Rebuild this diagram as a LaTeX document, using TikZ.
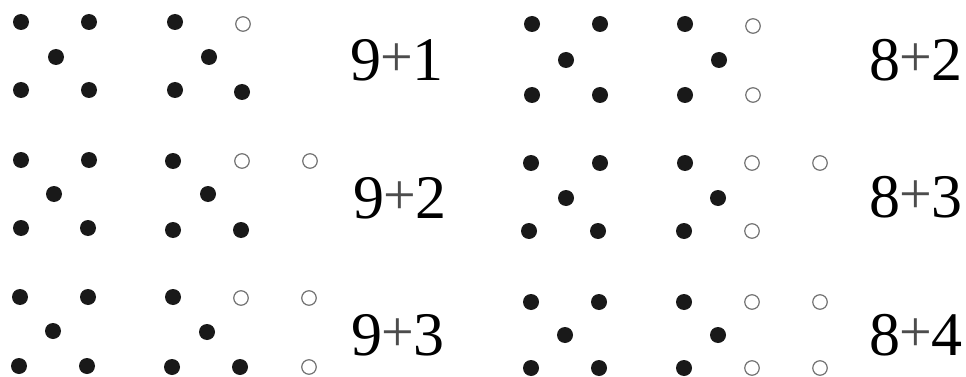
\documentclass[tikz,border=0pt]{standalone}
\usepackage{graphicx}
\usepackage{fontspec}
\newfontfamily\labfont{Liberation Serif}
\tikzset{
  fd/.style={circle,fill=black!90,inner sep=0pt,minimum size=16pt},
  od/.style={circle,draw=black!55,line width=1.2pt,inner sep=0pt,minimum size=14.5pt},
  sumlabel/.style={inner sep=0pt,font=\labfont\fontsize{62}{62}\selectfont}
}
\newcommand{\pl}{{\kern-1pt\raisebox{4pt}{\fontsize{58}{58}\selectfont\color{black!70}+}\kern-1pt}}
\begin{document}
\begin{tikzpicture}[x=1pt,y=-1pt]
\useasboundingbox (0,0) rectangle (966,377);
% ---- row 1 left
\node[fd] (a1) at (21,22) {};
\node[fd] (a2) at (89,22) {};
\node[fd] (a3) at (56,57) {};
\node[fd] (a4) at (21,90) {};
\node[fd] (a5) at (89,90) {};
\node[fd] (a6) at (175,22) {};
\node[od] (a7) at (243,24) {};
\node[fd] (a8) at (209,57) {};
\node[fd] (a9) at (175,90) {};
\node[fd] (a10) at (242,92) {};
\node[sumlabel] (la) at (397,60) {9\pl1};
% ---- row 1 right
\node[fd] (b1) at (532,24) {};
\node[fd] (b2) at (600,24) {};
\node[fd] (b3) at (566,60) {};
\node[fd] (b4) at (532,95) {};
\node[fd] (b5) at (600,95) {};
\node[fd] (b6) at (685,24) {};
\node[od] (b7) at (753,26) {};
\node[fd] (b8) at (719,60) {};
\node[fd] (b9) at (685,95) {};
\node[od] (b10) at (753,95) {};
\node[sumlabel] (lb) at (916,60) {8\pl2};
% ---- row 2 left
\node[fd] (c1) at (21,160) {};
\node[fd] (c2) at (89,160) {};
\node[fd] (c3) at (54,194) {};
\node[fd] (c4) at (21,228) {};
\node[fd] (c5) at (88,228) {};
\node[fd] (c6) at (173,161) {};
\node[od] (c7) at (242,161) {};
\node[od] (c8) at (310,161) {};
\node[fd] (c9) at (208,194) {};
\node[fd] (c10) at (173,230) {};
\node[fd] (c11) at (241,230) {};
\node[sumlabel] (lc) at (400,198) {9\pl2};
% ---- row 2 right
\node[fd] (d1) at (531,163) {};
\node[fd] (d2) at (600,163) {};
\node[fd] (d3) at (566,198) {};
\node[fd] (d4) at (529,231) {};
\node[fd] (d5) at (598,231) {};
\node[fd] (d6) at (685,163) {};
\node[od] (d7) at (752,163) {};
\node[od] (d8) at (820,163) {};
\node[fd] (d9) at (718,198) {};
\node[fd] (d10) at (684,231) {};
\node[od] (d11) at (752,231) {};
\node[sumlabel] (ld) at (916,197) {8\pl3};
% ---- row 3 left
\node[fd] (e1) at (20,297) {};
\node[fd] (e2) at (88,297) {};
\node[fd] (e3) at (53,331) {};
\node[fd] (e4) at (19,366) {};
\node[fd] (e5) at (87,366) {};
\node[fd] (e6) at (173,297) {};
\node[od] (e7) at (241,298) {};
\node[od] (e8) at (309,298) {};
\node[fd] (e9) at (207,332) {};
\node[fd] (e10) at (172,367) {};
\node[fd] (e11) at (240,367) {};
\node[od] (e12) at (309,367) {};
\node[sumlabel] (le) at (398,335) {9\pl3};
% ---- row 3 right
\node[fd] (f1) at (531,302) {};
\node[fd] (f2) at (599,302) {};
\node[fd] (f3) at (565,335) {};
\node[fd] (f4) at (531,368) {};
\node[fd] (f5) at (599,368) {};
\node[fd] (f6) at (684,302) {};
\node[od] (f7) at (752,302) {};
\node[od] (f8) at (820,302) {};
\node[fd] (f9) at (718,335) {};
\node[fd] (f10) at (684,368) {};
\node[od] (f11) at (752,368) {};
\node[od] (f12) at (820,368) {};
\node[sumlabel] (lf) at (916,335) {8\pl4};
\end{tikzpicture}
\end{document}
